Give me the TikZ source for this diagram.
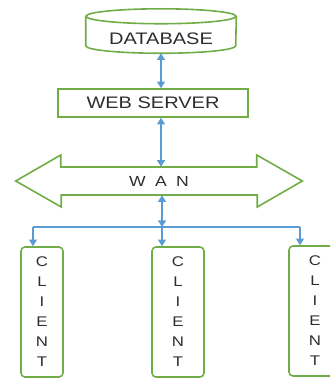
\documentclass[tikz,border=0pt]{standalone}
\usepackage{fontspec}
\setmainfont{Liberation Sans}[FakeStretch=1.2]
\usepackage{tikz}
\usetikzlibrary{arrows.meta,positioning,calc}
\definecolor{boxgreen}{RGB}{112,173,71}
\definecolor{linkblue}{RGB}{91,155,213}
\definecolor{txtgray}{RGB}{45,45,45}

\begin{document}
\begin{tikzpicture}[
  x=0.75pt, y=-0.75pt,
  font=\fontsize{12.5}{15}\selectfont, text=txtgray,
  frame/.style={draw=boxgreen, line width=1.2pt},
  box/.style={frame, minimum height=21pt, inner sep=0pt},
  client/.style={frame, rounded corners=3pt, minimum width=#1, minimum height=97.5pt, inner sep=0pt, align=center, font=\fontsize{10.5}{15}\selectfont},
  client/.default=39pt,
  link/.style={draw=linkblue, line width=1pt},
  >={Triangle[length=5pt, width=6pt]},
]
\useasboundingbox (0,0) rectangle (330,378);
\clip (0,0) rectangle (330,378);

% database drum
\node[minimum width=112.5pt, minimum height=21.75pt, inner sep=0pt] (db) at (161,38.5) {DATABASE};
\draw[frame] ([yshift=5.6pt]db.north) ellipse [x radius=56.25pt, y radius=5.6pt];
\draw[frame] ([yshift=5.6pt]db.north west) -- ([yshift=5.6pt]db.south west)
  arc[start angle=180, end angle=360, x radius=56.25pt, y radius=5.6pt] -- ([yshift=5.6pt]db.north east);

\node[box, minimum width=142.5pt] (web) at (153,103) {WEB SERVER};

% wide double arrow
\node[minimum width=214.5pt, minimum height=21pt, inner sep=0pt, font=\fontsize{11}{13}\selectfont] (wan) at (159,181) {W\hspace{7pt}A\hspace{7pt}N};
\draw[frame] (wan.west) -- ++(45,-26) -- ++(0,12) -- ++(196,0) -- ++(0,-12) -- (wan.east)
  -- ++(-45,26) -- ++(0,-12) -- ++(-196,0) -- ++(0,12) -- cycle;

\node[client=31.5pt] (c1) at (42,312) {C\\L\\I\\E\\N\\T};
\node[client] (c2) at (178,312) {C\\L\\I\\E\\N\\T};
\node[client] (c3) at (315,311) {C\\L\\I\\E\\N\\T};

\draw[link,<->] (db.south) -- (db.south |- web.north);
\draw[link,<->] (web.south -| db.south) -- (wan.north -| db.south);

\coordinate (bus) at (162,227);
\coordinate (b1) at (33,227);
\coordinate (b3) at (300,227);
\draw[link,<->] (wan.south -| bus) -- (bus);
\draw[link] (b1) -- (b3);
\foreach \b/\c in {b1/c1,bus/c2,b3/c3} \draw[link,->] (\b) -- (\b |- \c.north);
\end{tikzpicture}
\end{document}
